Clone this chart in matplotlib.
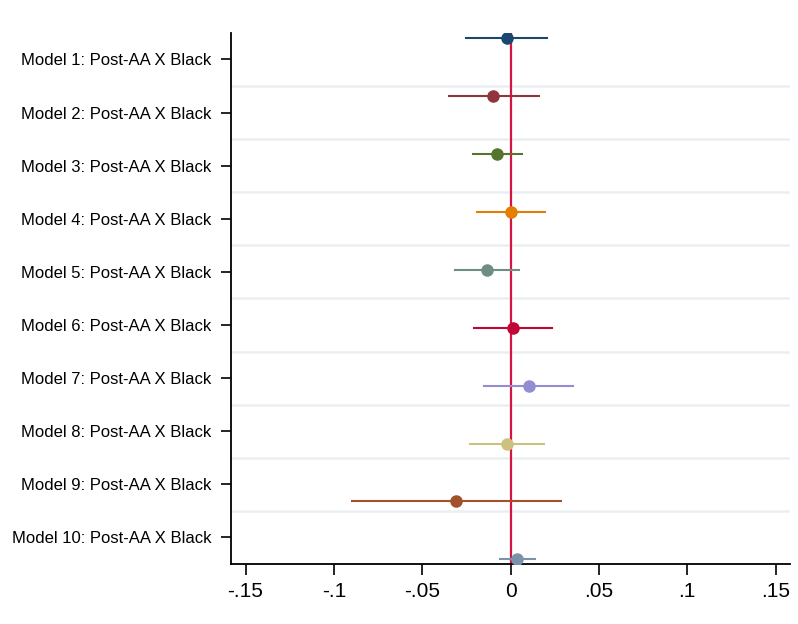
import matplotlib.pyplot as plt
import numpy as np

plt.rcParams['font.family'] = ['Liberation Sans', 'DejaVu Sans']

labels = ["Model %d: Post-AA X Black" % i for i in range(1, 11)]
coef = [-0.0022, -0.0097, -0.0075, 0.0003, -0.0131, 0.0012, 0.0103, -0.0020, -0.0308, 0.0037]
ci_lo = [-0.0252, -0.0350, -0.0210, -0.0190, -0.0314, -0.0207, -0.0150, -0.0230, -0.0900, -0.0060]
ci_hi = [0.0207, 0.0160, 0.0063, 0.0195, 0.0050, 0.0233, 0.0356, 0.0190, 0.0285, 0.0137]
colors = ["#1a476f", "#90353b", "#55752f", "#e37e00", "#6e8e84",
          "#c10534", "#938dd2", "#cac27e", "#a0522d", "#7b92a8"]
xticks = [-0.15, -0.1, -0.05, 0, 0.05, 0.1, 0.15]
xticklabels = ["-.15", "-.1", "-.05", "0", ".05", ".1", ".15"]

fig = plt.figure(figsize=(7.98, 6.24), dpi=100)
ax = fig.add_axes([0.2895, 0.0962, 0.7005, 0.851])

n = len(labels)
ticks = np.arange(1, n + 1)
# coefplot shifts each model's marker by its own offset
offsets = np.linspace(-0.41, 0.415, n)

for y in np.arange(1.5, n, 1.0):
    ax.axhline(y, color="#eaf0f2", lw=1.8, zorder=0)

ax.axvline(0, color="#d41543", lw=1.6, zorder=1)

for i in range(n):
    y = ticks[i] + offsets[i]
    ax.plot([ci_lo[i], ci_hi[i]], [y, y], color=colors[i], lw=1.5, zorder=2)
    ax.plot(coef[i], y, "o", color=colors[i], ms=8, zorder=3)

ax.set_ylim(n + 0.5, 0.5)
ax.set_xlim(-0.1582, 0.1582)
ax.set_yticks(ticks)
ax.set_yticklabels(labels, fontsize=12)
ax.set_xticks(xticks)
ax.set_xticklabels(xticklabels, fontsize=15)
ax.tick_params(axis="y", length=7, width=1.2, pad=7)
ax.tick_params(axis="x", length=8, width=1.2, pad=5)

for s in ["top", "right"]:
    ax.spines[s].set_visible(False)
ax.spines["left"].set_linewidth(1.3)
ax.spines["bottom"].set_linewidth(1.3)

fig.savefig("out.png", dpi=100)
